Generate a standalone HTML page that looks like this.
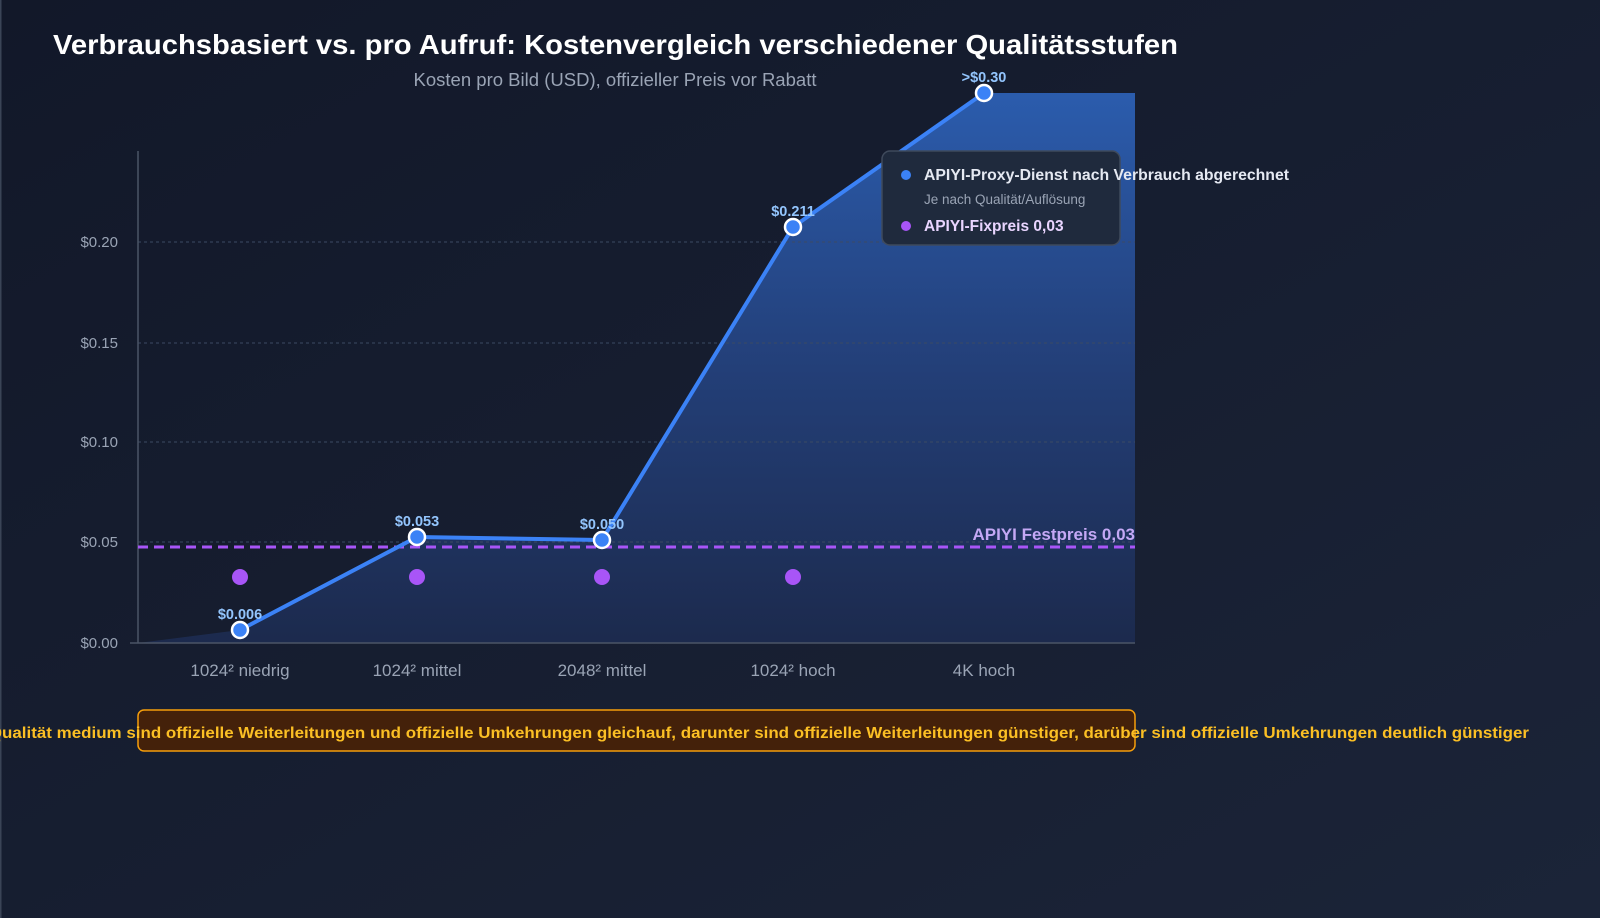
<!DOCTYPE html>
<html><head><meta charset="utf-8"><style>
html,body{margin:0;padding:0;width:1600px;height:918px;overflow:hidden;background:#151c2e}
svg{display:block}
text{font-family:"Liberation Sans",sans-serif}
</style></head><body>
<svg width="1600" height="918" viewBox="0 0 1600 918" xmlns="http://www.w3.org/2000/svg">
<defs>
<linearGradient id="bg" x1="0" y1="0" x2="1" y2="1">
<stop offset="0" stop-color="#121829"/><stop offset="1" stop-color="#1b2438"/>
</linearGradient>
<linearGradient id="area" x1="0" y1="93" x2="0" y2="643" gradientUnits="userSpaceOnUse">
<stop offset="0" stop-color="#2b5cad"/><stop offset="0.5" stop-color="#233f78"/><stop offset="1" stop-color="#1c2a4d"/>
</linearGradient>
</defs>
<rect width="1600" height="918" fill="url(#bg)"/>
<rect x="0" y="0" width="1.5" height="918" fill="#3a4456"/>
<text x="53" y="54" font-size="28" font-weight="bold" fill="#ffffff" textLength="1125" lengthAdjust="spacingAndGlyphs">Verbrauchsbasiert vs. pro Aufruf: Kostenvergleich verschiedener Qualitätsstufen</text>
<text x="615" y="86" font-size="18" fill="#9aa4b5" text-anchor="middle" textLength="403" lengthAdjust="spacingAndGlyphs">Kosten pro Bild (USD), offizieller Preis vor Rabatt</text>
<!-- area -->
<path d="M138,643 L240,630 L417,537 L602,540 L793,227 L984,93 L1135,93 L1135,643 Z" fill="url(#area)"/>
<!-- grid -->
<g stroke="#3b4a63" stroke-dasharray="3,3" stroke-width="1">
<line x1="138" y1="242" x2="1135" y2="242"/><line x1="138" y1="343" x2="1135" y2="343"/>
<line x1="138" y1="442" x2="1135" y2="442"/><line x1="138" y1="542" x2="1135" y2="542"/>
</g>
<g stroke="#4b5566" stroke-width="1.5">
<line x1="138" y1="151" x2="138" y2="643"/><line x1="130" y1="643" x2="1135" y2="643"/>
</g>
<g font-size="15" fill="#9aa4b5" text-anchor="end">
<text x="118" y="648">$0.00</text><text x="118" y="547">$0.05</text><text x="118" y="447">$0.10</text>
<text x="118" y="348">$0.15</text><text x="118" y="247">$0.20</text>
</g>
<g font-size="17" fill="#9aa4b5" text-anchor="middle">
<text x="240" y="676">1024² niedrig</text><text x="417" y="676">1024² mittel</text>
<text x="602" y="676">2048² mittel</text><text x="793" y="676">1024² hoch</text><text x="984" y="676">4K hoch</text>
</g>
<!-- dashed fixed -->
<line x1="138" y1="547" x2="1135" y2="547" stroke="#a855f7" stroke-width="3" stroke-dasharray="10,6"/>
<text x="1135" y="540" font-size="17" font-weight="bold" fill="#c4a8f5" text-anchor="end">APIYI Festpreis 0,03</text>
<g fill="#a855f7"><circle cx="240" cy="577" r="8"/><circle cx="417" cy="577" r="8"/><circle cx="602" cy="577" r="8"/><circle cx="793" cy="577" r="8"/></g>
<!-- line -->
<polyline points="240,630 417,537 602,540 793,227 984,93" fill="none" stroke="#3b82f6" stroke-width="4" stroke-linejoin="round"/>
<g fill="#3b82f6" stroke="#ffffff" stroke-width="2.5">
<circle cx="240" cy="630" r="8"/><circle cx="417" cy="537" r="8"/><circle cx="602" cy="540" r="8"/><circle cx="793" cy="227" r="8"/><circle cx="984" cy="93" r="8"/>
</g>
<g font-size="14.5" font-weight="bold" fill="#93c5fd" text-anchor="middle">
<text x="240" y="619">$0.006</text><text x="417" y="526">$0.053</text><text x="602" y="529">$0.050</text>
<text x="793" y="216">$0.211</text><text x="984" y="82">&gt;$0.30</text>
</g>
<!-- legend -->
<rect x="882" y="151" width="238" height="94" rx="8" fill="#1f2a3d" stroke="#3f4a5c" stroke-width="1.5"/>
<circle cx="906" cy="175" r="5" fill="#3b82f6"/>
<text x="924" y="180" font-size="15.5" font-weight="bold" fill="#e5e9f2" textLength="365" lengthAdjust="spacingAndGlyphs">APIYI-Proxy-Dienst nach Verbrauch abgerechnet</text>
<text x="924" y="204" font-size="13.5" fill="#9aa4b5">Je nach Qualität/Auflösung</text>
<circle cx="906" cy="226" r="5" fill="#a855f7"/>
<text x="924" y="231" font-size="15.5" font-weight="bold" fill="#e9d5ff">APIYI-Fixpreis 0,03</text>
<!-- annotation -->
<rect x="138" y="710" width="997" height="41" rx="6" fill="#44210a" stroke="#f59e0b" stroke-width="1.5"/>
<text x="2" y="738" font-size="16" font-weight="bold" fill="#fbbf24" text-anchor="end">Bei Q</text>
<text x="2" y="738" font-size="16" font-weight="bold" fill="#fbbf24" textLength="1527" lengthAdjust="spacingAndGlyphs">ualität medium sind offizielle Weiterleitungen und offizielle Umkehrungen gleichauf, darunter sind offizielle Weiterleitungen günstiger, darüber sind offizielle Umkehrungen deutlich günstiger</text>
</svg>
</body></html>
